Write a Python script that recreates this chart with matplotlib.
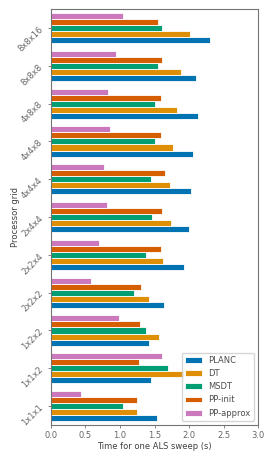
import numpy as np
import matplotlib
matplotlib.use("Agg")
import matplotlib.pyplot as plt
import seaborn as sns

sns.set_style("ticks")
plt.rcParams['font.family'] = ['DejaVu Sans']
plt.rcParams['font.size'] = 6

#%% data

grids = ['1x1x1', '1x1x2', '1x2x2', '2x2x2', '2x2x4', '2x4x4',
         '4x4x4', '4x4x8', '4x8x8', '8x8x8', '8x8x16']

planc = [1.53, 1.45, 1.42, 1.64, 1.92, 2.00, 2.03, 2.05, 2.13, 2.10, 2.30]
dt = [1.25, 1.93, 1.56, 1.42, 1.62, 1.74, 1.73, 1.77, 1.82, 1.89, 2.02]
msdt = [1.04, 1.70, 1.37, 1.20, 1.38, 1.47, 1.45, 1.50, 1.50, 1.55, 1.61]
pp_init = [1.24, 1.27, 1.29, 1.30, 1.59, 1.61, 1.65, 1.60, 1.60, 1.61, 1.545]
pp_approx = [0.44, 1.61, 0.98, 0.58, 0.70, 0.81, 0.77, 0.86, 0.83, 0.94, 1.04]

series = {'PLANC': planc, 'DT': dt, 'MSDT': msdt,
          'PP-init': pp_init, 'PP-approx': pp_approx}

#%% plot

colors = sns.color_palette('colorblind')
fig = plt.figure(figsize=(2.74, 4.57), dpi=100)
ax = fig.add_axes([0.186, 0.07, 0.756, 0.91])

y = np.arange(len(grids))
n = len(series)
h = 0.8 / n
for i, (name, vals) in enumerate(series.items()):
    ax.barh(y - 0.4 + h * (i + 0.5), vals, height=h, color=colors[i],
            edgecolor='white', linewidth=0.6, label=name)

ax.set_yticks(y)
ax.set_yticklabels(grids, rotation=45)
ax.set_ylim(-0.5, len(grids) - 0.5)
ax.set_xlim(0, 3)
ax.set_xticks(np.arange(0, 3.01, 0.5))
ax.set_xlabel('Time for one ALS sweep (s)', labelpad=1, color='0.25')
ax.set_ylabel('Processor grid', color='0.25')
ax.yaxis.set_label_coords(-0.15, 0.5)

for sp in ax.spines.values():
    sp.set_color('0.45')
ax.tick_params(length=2.5, width=0.6, color='0.45', labelcolor='0.4', pad=2)

leg = ax.legend(loc='lower right', fontsize=6, frameon=True)
for t in leg.get_texts():
    t.set_color('0.3')

fig.savefig('out.png', dpi=100)
